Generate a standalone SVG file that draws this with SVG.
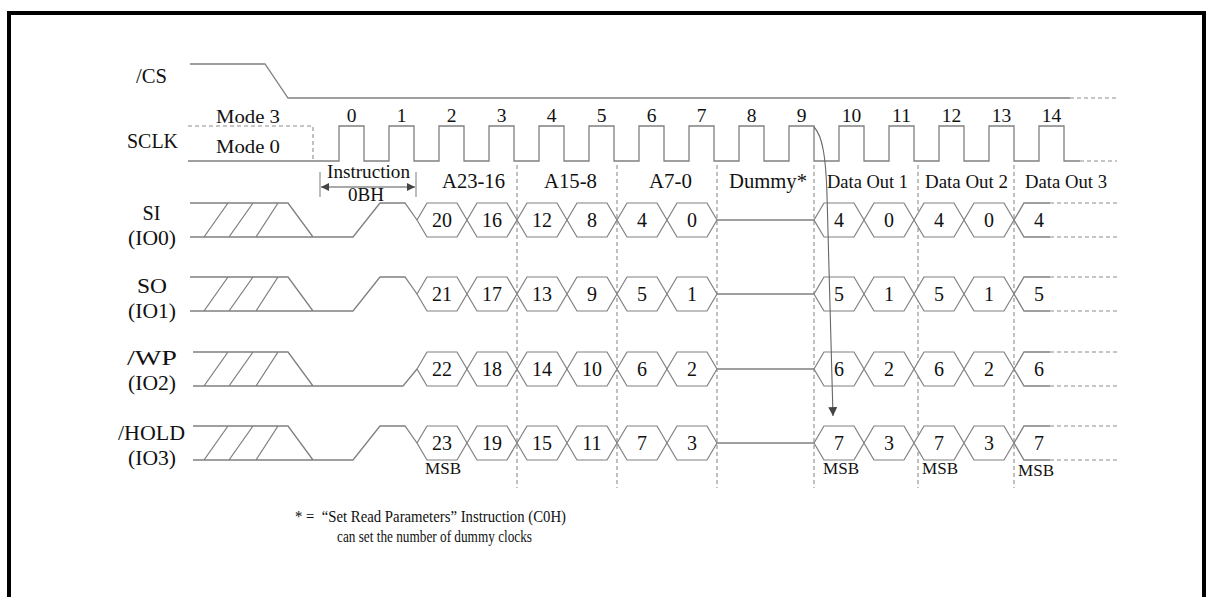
<svg xmlns="http://www.w3.org/2000/svg" width="1215" height="597" viewBox="0 0 1215 597">
<style>
.w{fill:none;stroke:#808080;stroke-width:1.3}
.d{fill:none;stroke:#8c8c8c;stroke-width:1.1;stroke-dasharray:4 3}
.hx{fill:#fff;stroke:#808080;stroke-width:1.2}
.t{font-family:"Liberation Serif","Times New Roman",serif;fill:#111;text-anchor:middle}
.lb{font-size:21px}
.n{font-size:20px}
.s{font-size:18.5px}
.m{font-size:16px}
.note{font-family:"Liberation Serif","Times New Roman",serif;fill:#111;font-size:16.5px}
</style>
<defs>
<marker id="ah" viewBox="0 0 10 10" refX="10" refY="5" markerWidth="10" markerHeight="8" markerUnits="userSpaceOnUse" orient="auto-start-reverse">
<path d="M0,0 L10,5 L0,10 z" fill="#444"/>
</marker>
<marker id="ad" viewBox="0 0 10 10" refX="10" refY="5" markerWidth="12" markerHeight="9" markerUnits="userSpaceOnUse" orient="auto">
<path d="M0,0 L10,5 L0,10 z" fill="#444"/>
</marker>
</defs>
<rect width="1215" height="597" fill="#fff"/>
<rect x="9" y="13" width="1195" height="620" fill="none" stroke="#000" stroke-width="4"/>

<g id="labels">
<text class="t lb" x="151.5" y="83" textLength="31" lengthAdjust="spacingAndGlyphs">/CS</text>
<text class="t lb" x="152.5" y="148" textLength="51" lengthAdjust="spacingAndGlyphs">SCLK</text>
<text class="t lb" x="151.5" y="220" textLength="18" lengthAdjust="spacingAndGlyphs">SI</text>
<text class="t lb" x="152" y="245" textLength="48" lengthAdjust="spacingAndGlyphs">(IO0)</text>
<text class="t lb" x="152" y="293" textLength="30" lengthAdjust="spacingAndGlyphs">SO</text>
<text class="t lb" x="152" y="318" textLength="48" lengthAdjust="spacingAndGlyphs">(IO1)</text>
<text class="t lb" x="152" y="365" textLength="50" lengthAdjust="spacingAndGlyphs">/WP</text>
<text class="t lb" x="151.5" y="440" textLength="67" lengthAdjust="spacingAndGlyphs">/HOLD</text>
<text class="t lb" x="152" y="390" textLength="48" lengthAdjust="spacingAndGlyphs">(IO2)</text>
<text class="t lb" x="152" y="465" textLength="48" lengthAdjust="spacingAndGlyphs">(IO3)</text>
</g>

<g id="cs">
<path class="w" d="M190,64 H265 L288,98 H1070"/>
<path class="d" d="M1070,98 H1117"/>
</g>

<g id="sclk">
<path class="d" d="M188,126 H313 V161"/>
<path class="w" d="M188,161 H339 V126 H364 V161 H389 V126 H414 V161 H439 V126 H464 V161 H489 V126 H514 V161 H539 V126 H564 V161 H589 V126 H614 V161 H639 V126 H664 V161 H689 V126 H714 V161 H739 V126 H764 V161 H789 V126 H814 V161 H839 V126 H864 V161 H889 V126 H914 V161 H939 V126 H964 V161 H989 V126 H1014 V161 H1039 V126 H1064 V161 H1080"/>
<path class="d" d="M1080,161 H1117"/>
<text class="t s" x="248" y="123" textLength="64" lengthAdjust="spacingAndGlyphs">Mode 3</text>
<text class="t s" x="248" y="153" textLength="64" lengthAdjust="spacingAndGlyphs">Mode 0</text>
<g class="t" font-size="19.5">
<text x="351.5" y="122">0</text><text x="401.5" y="122">1</text><text x="451.5" y="122">2</text><text x="501.5" y="122">3</text><text x="551.5" y="122">4</text><text x="601.5" y="122">5</text><text x="651.5" y="122">6</text><text x="701.5" y="122">7</text><text x="751.5" y="122">8</text><text x="801.5" y="122">9</text><text x="851.5" y="122">10</text><text x="901.5" y="122">11</text><text x="951.5" y="122">12</text><text x="1001.5" y="122">13</text><text x="1051.5" y="122">14</text>
</g>
</g>

<g id="phases">
<path d="M320,172 V197 M416,172 V197" stroke="#888" stroke-width="1.1" fill="none"/>
<path d="M321,187 H415" stroke="#555" stroke-width="1.1" fill="none" marker-start="url(#ah)" marker-end="url(#ah)"/>
<text class="t s" x="368.5" y="178" textLength="83" lengthAdjust="spacingAndGlyphs">Instruction</text>
<text class="t s" x="366" y="201" textLength="36" lengthAdjust="spacingAndGlyphs">0BH</text>
<text class="t lb" x="473.5" y="188" textLength="63" lengthAdjust="spacingAndGlyphs">A23-16</text>
<text class="t lb" x="570.5" y="188" textLength="53" lengthAdjust="spacingAndGlyphs">A15-8</text>
<text class="t lb" x="670.5" y="188" textLength="43" lengthAdjust="spacingAndGlyphs">A7-0</text>
<text class="t lb" x="768" y="188" textLength="78" lengthAdjust="spacingAndGlyphs">Dummy*</text>
<text class="t s" x="867.5" y="188" textLength="81" lengthAdjust="spacingAndGlyphs">Data Out 1</text>
<text class="t s" x="966.5" y="188" textLength="83" lengthAdjust="spacingAndGlyphs">Data Out 2</text>
<text class="t s" x="1066" y="188" textLength="82" lengthAdjust="spacingAndGlyphs">Data Out 3</text>
</g>

<g id="dividers">
<path class="d" d="M517,165 V488 M617,165 V488 M717,165 V488 M814,165 V488 M918,165 V488 M1014,165 V488"/>
</g>

<g id="si">
<path class="w" d="M190,203 H288 L313,237 M190,237 H353 L380,203 H405 L417,220 M204,237 L228,203 M229,237 L253,203 M256,237 L278,203 M717,220 H814"/>
<polygon class="hx" points="417,220 427,203 457,203 467,220 457,237 427,237"/>
<polygon class="hx" points="467,220 477,203 507,203 517,220 507,237 477,237"/>
<polygon class="hx" points="517,220 527,203 557,203 567,220 557,237 527,237"/>
<polygon class="hx" points="567,220 577,203 607,203 617,220 607,237 577,237"/>
<polygon class="hx" points="617,220 627,203 657,203 667,220 657,237 627,237"/>
<polygon class="hx" points="667,220 677,203 707,203 717,220 707,237 677,237"/>
<polygon class="hx" points="814,220 824,203 854,203 864,220 854,237 824,237"/>
<polygon class="hx" points="864,220 874,203 904,203 914,220 904,237 874,237"/>
<polygon class="hx" points="914,220 924,203 954,203 964,220 954,237 924,237"/>
<polygon class="hx" points="964,220 974,203 1004,203 1014,220 1004,237 974,237"/>
<path class="w" d="M1050,203 H1024 L1014,220 L1024,237 H1050"/>
<path class="d" d="M1050,203 H1118 M1050,237 H1118"/>
<g class="t n">
<text x="442" y="227">20</text><text x="492" y="227">16</text><text x="542" y="227">12</text><text x="592" y="227">8</text><text x="642" y="227">4</text><text x="692" y="227">0</text>
<text x="839" y="227">4</text><text x="889" y="227">0</text><text x="939" y="227">4</text><text x="989" y="227">0</text><text x="1039" y="227">4</text>
</g>
</g>

<g id="so">
<path class="w" d="M190,277 H288 L313,311 M190,311 H353 L380,277 H405 L417,294 M204,311 L228,277 M229,311 L253,277 M256,311 L278,277 M717,294 H814"/>
<polygon class="hx" points="417,294 427,277 457,277 467,294 457,311 427,311"/>
<polygon class="hx" points="467,294 477,277 507,277 517,294 507,311 477,311"/>
<polygon class="hx" points="517,294 527,277 557,277 567,294 557,311 527,311"/>
<polygon class="hx" points="567,294 577,277 607,277 617,294 607,311 577,311"/>
<polygon class="hx" points="617,294 627,277 657,277 667,294 657,311 627,311"/>
<polygon class="hx" points="667,294 677,277 707,277 717,294 707,311 677,311"/>
<polygon class="hx" points="814,294 824,277 854,277 864,294 854,311 824,311"/>
<polygon class="hx" points="864,294 874,277 904,277 914,294 904,311 874,311"/>
<polygon class="hx" points="914,294 924,277 954,277 964,294 954,311 924,311"/>
<polygon class="hx" points="964,294 974,277 1004,277 1014,294 1004,311 974,311"/>
<path class="w" d="M1050,277 H1024 L1014,294 L1024,311 H1050"/>
<path class="d" d="M1050,277 H1118 M1050,311 H1118"/>
<g class="t n">
<text x="442" y="301">21</text><text x="492" y="301">17</text><text x="542" y="301">13</text><text x="592" y="301">9</text><text x="642" y="301">5</text><text x="692" y="301">1</text>
<text x="839" y="301">5</text><text x="889" y="301">1</text><text x="939" y="301">5</text><text x="989" y="301">1</text><text x="1039" y="301">5</text>
</g>
</g>

<g id="wp">
<path class="w" d="M193,352 H288 L313,386 M193,386 H403 L417,369 M204,386 L228,352 M229,386 L253,352 M256,386 L278,352 M717,369 H814"/>
<polygon class="hx" points="417,369 427,352 457,352 467,369 457,386 427,386"/>
<polygon class="hx" points="467,369 477,352 507,352 517,369 507,386 477,386"/>
<polygon class="hx" points="517,369 527,352 557,352 567,369 557,386 527,386"/>
<polygon class="hx" points="567,369 577,352 607,352 617,369 607,386 577,386"/>
<polygon class="hx" points="617,369 627,352 657,352 667,369 657,386 627,386"/>
<polygon class="hx" points="667,369 677,352 707,352 717,369 707,386 677,386"/>
<polygon class="hx" points="814,369 824,352 854,352 864,369 854,386 824,386"/>
<polygon class="hx" points="864,369 874,352 904,352 914,369 904,386 874,386"/>
<polygon class="hx" points="914,369 924,352 954,352 964,369 954,386 924,386"/>
<polygon class="hx" points="964,369 974,352 1004,352 1014,369 1004,386 974,386"/>
<path class="w" d="M1050,352 H1024 L1014,369 L1024,386 H1050"/>
<path class="d" d="M1050,352 H1118 M1050,386 H1118"/>
<g class="t n">
<text x="442" y="376">22</text><text x="492" y="376">18</text><text x="542" y="376">14</text><text x="592" y="376">10</text><text x="642" y="376">6</text><text x="692" y="376">2</text>
<text x="839" y="376">6</text><text x="889" y="376">2</text><text x="939" y="376">6</text><text x="989" y="376">2</text><text x="1039" y="376">6</text>
</g>
</g>

<g id="hold">
<path class="w" d="M193,426 H288 L313,460 M193,460 H353 L380,426 H405 L417,443 M204,460 L228,426 M229,460 L253,426 M256,460 L278,426 M717,443 H814"/>
<polygon class="hx" points="417,443 427,426 457,426 467,443 457,460 427,460"/>
<polygon class="hx" points="467,443 477,426 507,426 517,443 507,460 477,460"/>
<polygon class="hx" points="517,443 527,426 557,426 567,443 557,460 527,460"/>
<polygon class="hx" points="567,443 577,426 607,426 617,443 607,460 577,460"/>
<polygon class="hx" points="617,443 627,426 657,426 667,443 657,460 627,460"/>
<polygon class="hx" points="667,443 677,426 707,426 717,443 707,460 677,460"/>
<polygon class="hx" points="814,443 824,426 854,426 864,443 854,460 824,460"/>
<polygon class="hx" points="864,443 874,426 904,426 914,443 904,460 874,460"/>
<polygon class="hx" points="914,443 924,426 954,426 964,443 954,460 924,460"/>
<polygon class="hx" points="964,443 974,426 1004,426 1014,443 1004,460 974,460"/>
<path class="w" d="M1050,426 H1024 L1014,443 L1024,460 H1050"/>
<path class="d" d="M1050,426 H1118 M1050,460 H1118"/>
<g class="t n">
<text x="442" y="450">23</text><text x="492" y="450">19</text><text x="542" y="450">15</text><text x="592" y="450">11</text><text x="642" y="450">7</text><text x="692" y="450">3</text>
<text x="839" y="450">7</text><text x="889" y="450">3</text><text x="939" y="450">7</text><text x="989" y="450">3</text><text x="1039" y="450">7</text>
</g>
<g class="t m">
<text x="443" y="474" textLength="36" lengthAdjust="spacingAndGlyphs">MSB</text>
<text x="841" y="474" textLength="36" lengthAdjust="spacingAndGlyphs">MSB</text>
<text x="940" y="474" textLength="36" lengthAdjust="spacingAndGlyphs">MSB</text>
<text x="1036" y="476" textLength="36" lengthAdjust="spacingAndGlyphs">MSB</text>
</g>
</g>

<g id="connectors">
<path d="M814,127 C823,136 826,160 827,195 L833,416" fill="none" stroke="#666" stroke-width="1.1" marker-end="url(#ad)"/>
</g>

<g id="note">
<text class="note" x="295" y="522" textLength="271" lengthAdjust="spacingAndGlyphs" xml:space="preserve">* =  “Set Read Parameters” Instruction (C0H)</text>
<text class="note" x="337" y="542" textLength="195" lengthAdjust="spacingAndGlyphs">can set the number of dummy clocks</text>
</g>
</svg>
